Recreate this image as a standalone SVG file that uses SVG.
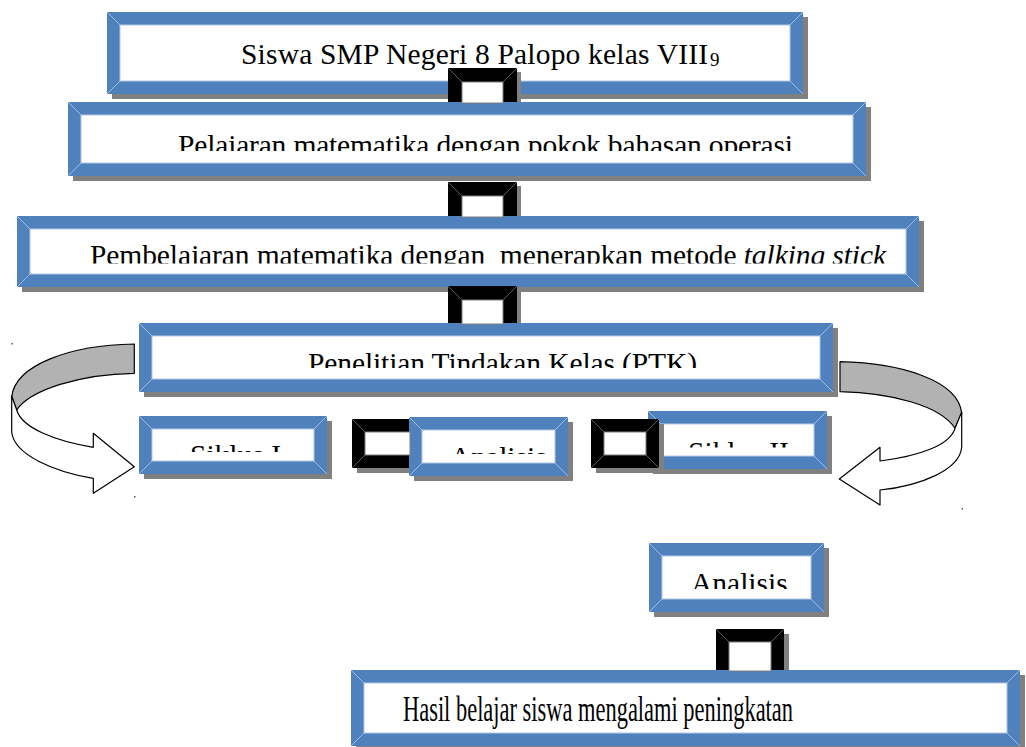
<svg xmlns="http://www.w3.org/2000/svg" width="1026" height="747" viewBox="0 0 1026 747">
<style>
.sh{fill:#808080}
.bo{fill:#4F81BD}
.bi{fill:#fff;stroke:#B4C7E7;stroke-width:1}
.bd{stroke:#A3BDE0;stroke-width:1;fill:none}
.ko{fill:#000}
.ki{fill:#fff;stroke:#7f7f7f;stroke-width:1}
.kd{stroke:#5a5a5a;stroke-width:1;fill:none}
.t{font-family:"Liberation Serif","Times New Roman",serif;font-size:29.5px;fill:#000;white-space:pre}
.arr{stroke:#000;stroke-width:1.2;stroke-linejoin:round}
.dot{fill:#555}
</style>
<defs>
<clipPath id="cp2" clipPathUnits="userSpaceOnUse"><rect x="81" y="115" width="772" height="36"/></clipPath>
<clipPath id="cp3" clipPathUnits="userSpaceOnUse"><rect x="30" y="229" width="876" height="34.5"/></clipPath>
<clipPath id="cp4" clipPathUnits="userSpaceOnUse"><rect x="152" y="336" width="668" height="32"/></clipPath>
<clipPath id="cp5" clipPathUnits="userSpaceOnUse"><rect x="152" y="429" width="162" height="23"/></clipPath>
<clipPath id="cp6" clipPathUnits="userSpaceOnUse"><rect x="422" y="430" width="133" height="24"/></clipPath>
<clipPath id="cp7" clipPathUnits="userSpaceOnUse"><rect x="661" y="424" width="153" height="23.5"/></clipPath>
<clipPath id="cp8" clipPathUnits="userSpaceOnUse"><rect x="662" y="556" width="149" height="33"/></clipPath>
</defs>
<rect width="1026" height="747" fill="#fff"/>

<g id="node-siswa">
<rect class="sh" x="112" y="17" width="696" height="82"/>
<rect class="bo" x="107" y="12" width="696" height="82"/>
<path class="bd" d="M107,12L120,25M803,12L790,25M107,94L120,81M803,94L790,81"/>
<rect class="bi" x="120" y="25" width="670" height="56"/>
<text class="t" x="241" y="63.5" textLength="467">Siswa SMP Negeri 8 Palopo kelas VIII</text>
<text class="t" x="710" y="66" style="font-size:19px">9</text>
</g>

<g id="node-pelajaran">
<rect class="sh" x="73" y="107" width="798" height="74"/>
<rect class="bo" x="68" y="102" width="798" height="74"/>
<path class="bd" d="M68,102L81,115M866,102L853,115M68,176L81,163M866,176L853,163"/>
<rect class="bi" x="81" y="115" width="772" height="48"/>
<text class="t" x="178" y="155" textLength="615" clip-path="url(#cp2)">Pelajaran matematika dengan pokok bahasan operasi</text>
</g>

<g id="node-pembelajaran">
<rect class="sh" x="22" y="221" width="902" height="71"/>
<rect class="bo" x="17" y="216" width="902" height="71"/>
<path class="bd" d="M17,216L30,229M919,216L906,229M17,287L30,274M919,287L906,274"/>
<rect class="bi" x="30" y="229" width="876" height="45"/>
<text class="t" x="90" y="264.5" textLength="796" clip-path="url(#cp3)">Pembelajaran matematika dengan  menerapkan metode <tspan font-style="italic">talking stick</tspan></text>
</g>

<g id="node-ptk">
<rect class="sh" x="144" y="328" width="694" height="69"/>
<rect class="bo" x="139" y="323" width="694" height="69"/>
<path class="bd" d="M139,323L152,336M833,323L820,336M139,392L152,379M833,392L820,379"/>
<rect class="bi" x="152" y="336" width="668" height="43"/>
<text class="t" x="308" y="372.5" textLength="389" clip-path="url(#cp4)">Penelitian Tindakan Kelas (PTK)</text>
</g>

<g id="node-siklus1">
<rect class="sh" x="144" y="421" width="188" height="58"/>
<rect class="bo" x="139" y="416" width="188" height="58"/>
<path class="bd" d="M139,416L152,429M327,416L314,429M139,474L152,461M327,474L314,461"/>
<rect class="bi" x="152" y="429" width="162" height="32"/>
<text class="t" x="190" y="465" clip-path="url(#cp5)">Siklus I</text>
</g>

<g id="node-analisis1">
<rect class="sh" x="414" y="422" width="159" height="59"/>
<rect class="bo" x="409" y="417" width="159" height="59"/>
<path class="bd" d="M409,417L422,430M568,417L555,430M409,476L422,463M568,476L555,463"/>
<rect class="bi" x="422" y="430" width="133" height="33"/>
<text class="t" x="450" y="466.7" clip-path="url(#cp6)">Analisis</text>
</g>

<g id="node-siklus2">
<rect class="sh" x="653" y="416" width="179" height="58"/>
<rect class="bo" x="648" y="411" width="179" height="58"/>
<path class="bd" d="M648,411L661,424M827,411L814,424M648,469L661,456M827,469L814,456"/>
<rect class="bi" x="661" y="424" width="153" height="32"/>
<text class="t" x="688" y="462" clip-path="url(#cp7)">Siklus II</text>
</g>

<g id="node-analisis2">
<rect class="sh" x="654" y="548" width="175" height="69"/>
<rect class="bo" x="649" y="543" width="175" height="69"/>
<path class="bd" d="M649,543L662,556M824,543L811,556M649,612L662,599M824,612L811,599"/>
<rect class="bi" x="662" y="556" width="149" height="43"/>
<text class="t" x="691" y="593" clip-path="url(#cp8)">Analisis</text>
</g>

<g id="node-hasil">
<rect class="sh" x="356" y="675" width="669" height="76"/>
<rect class="bo" x="351" y="670" width="669" height="76"/>
<path class="bd" d="M351,670L364,683M1020,670L1007,683M351,746L364,733M1020,746L1007,733"/>
<rect class="bi" x="364" y="683" width="643" height="50"/>
<text class="t" x="403" y="721" textLength="390" lengthAdjust="spacingAndGlyphs" style="font-size:35px">Hasil belajar siswa mengalami peningkatan</text>
</g>

<g id="connectors">
<g id="conn-1">
<rect class="sh" x="452" y="72" width="69" height="30"/>
<rect class="ko" x="448" y="68" width="69" height="34"/>
<rect class="ki" x="462" y="82" width="41" height="21"/>
<path class="kd" d="M448,68L462,82M517,68L503,82"/>
</g>
<g id="conn-2">
<rect class="sh" x="452" y="186" width="69" height="30"/>
<rect class="ko" x="448" y="182" width="69" height="34"/>
<rect class="ki" x="462" y="196" width="41" height="21"/>
<path class="kd" d="M448,182L462,196M517,182L503,196"/>
</g>
<g id="conn-3">
<rect class="sh" x="452" y="290" width="69" height="33"/>
<rect class="ko" x="448" y="286" width="69" height="37"/>
<rect class="ki" x="462" y="300" width="41" height="24"/>
<path class="kd" d="M448,286L462,300M517,286L503,300"/>
</g>
<g id="conn-4">
<rect class="sh" x="357" y="424" width="52" height="49"/>
<rect class="ko" x="352" y="419" width="57" height="49"/>
<rect class="ki" x="365" y="432" width="45" height="23"/>
<path class="kd" d="M352,419L365,432M352,468L365,455"/>
</g>
<g id="conn-5">
<rect class="sh" x="596" y="424" width="68" height="49"/>
<rect class="ko" x="591" y="419" width="68" height="49"/>
<rect class="ki" x="604" y="432" width="42" height="23"/>
<path class="kd" d="M591,419L604,432M659,419L646,432M591,468L604,455M659,468L646,455"/>
</g>
<g id="conn-6">
<rect class="sh" x="721" y="634" width="68" height="36"/>
<rect class="ko" x="716" y="629" width="68" height="41"/>
<rect class="ki" x="729" y="642" width="42" height="29"/>
<path class="kd" d="M716,629L729,642M784,629L771,642"/>
</g>
<g id="arrow-left">
<path class="arr" fill="#B2B2B2" d="M134.3,344 C70,345 15,365 11.7,397 L16.7,410 C30,390 80,374 134.3,373.3 Z"/>
<path class="arr" fill="#fff" d="M11.7,396 L11.7,432 C14,455 55,472 93.3,478.3 L93.3,493.3 L134.3,466.7 L93.3,433.3 L93.3,447.3 C55,441 22,428 16.7,410 Z"/>
</g>
<g id="arrow-right">
<path class="arr" fill="#B2B2B2" d="M840,361.7 C900,363 958,380 961.7,413 L955,428.3 C940,405 890,393 840,391.7 Z"/>
<path class="arr" fill="#fff" d="M961.7,412 L961.7,447 C960,470 920,486 880,490 L880,505 L839.3,479 L880,447.3 L880,461 C920,456 950,445 955,428.3 Z"/>
</g>
</g>

<rect class="dot" x="11.5" y="343" width="1.5" height="1.5"/>
<rect class="dot" x="134" y="496" width="1.5" height="1.5"/>
<rect class="dot" x="961.5" y="508" width="1.5" height="1.5"/>
</svg>
